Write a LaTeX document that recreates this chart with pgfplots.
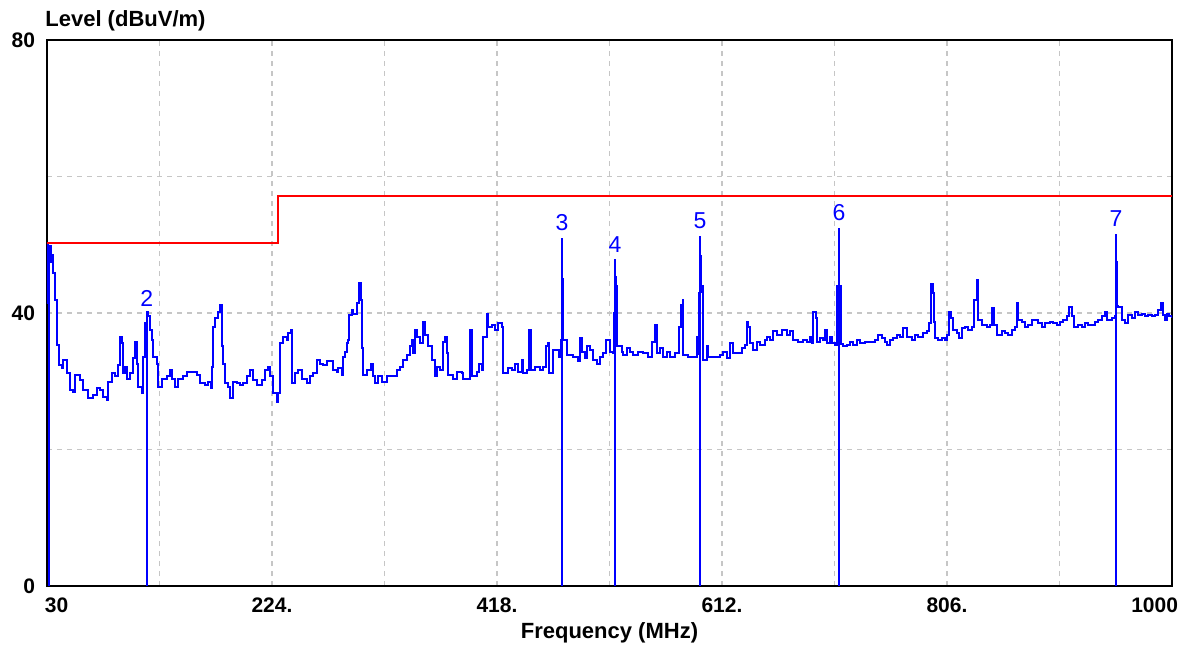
\documentclass[border=0pt]{standalone}
\usepackage{fontspec}
\setmainfont{Liberation Sans}
\usepackage{pgfplots}
\pgfplotsset{compat=1.18}
\begin{document}
\begin{tikzpicture}
\begin{axis}[
  scale only axis, width=562.5pt, height=273pt,
  xmin=30, xmax=1000, ymin=0, ymax=80,
  axis line style={line width=1pt, black},
  xtick={30,224,418,612,806,1000},
  xticklabels={{\makebox[0pt][l]{\hspace{-1pt}30}},224.,418.,612.,806.,{\makebox[0pt][r]{1000\hspace{-3pt}}}},
  ytick={0,40,80}, yticklabels={0,40,80},
  minor xtick={127,321,515,709,903},
  minor ytick={20,60},
  grid=both,
  major grid style={gray!45, line width=0.8pt, dash pattern=on 2.5pt off 2.5pt},
  minor grid style={gray!45, line width=0.8pt, dash pattern=on 2.5pt off 2.5pt},
  major tick length=0pt, minor tick length=0pt,
  ticklabel style={font=\fontsize{10.5}{12}\selectfont\bfseries},
  yticklabel style={xshift=-2.5pt},
  xticklabel style={yshift=-2.5pt},
  xlabel={Frequency (MHz)},
  ylabel={Level (dBuV/m)},
  every axis x label/.style={at={(rel axis cs:0.5,0)}, anchor=north, inner sep=0pt, yshift=-18pt, font=\fontsize{11}{13}\selectfont\bfseries},
  every axis y label/.style={at={(rel axis cs:0,1)}, anchor=south west, inner sep=0pt, xshift=-1pt, yshift=4.5pt, font=\fontsize{11}{13}\selectfont\bfseries},
]
% measured trace
\addplot[blue, line width=1pt, const plot] coordinates {
(30,41.5) (30.3,50.2) (30.9,47) (31.5,49.6) (32.3,49.8) (33.2,47.5) (34.2,48.5) (35.5,45.8) (37,41.9) (38.5,35.3) (40,32.4) (42.6,31.9) (44.1,33.1) (47,31.2) (49.8,28.7) (52.7,28.4) (54.1,30.9) (58.4,30.2) (61.3,28.7) (65.6,27.5) (70,28.0) (72.8,29.0) (75.7,28.7) (78.6,27.7) (81.4,27.3) (82.9,29.9) (85.7,31.2) (88.6,30.7) (91.5,32.4) (92.9,36.5) (94.4,35.6) (95.8,31.2) (97.2,32.1) (99.3,30.4) (101.6,31.2) (104.5,33.4) (105.9,35.8) (107.4,32.6) (108.8,29.2) (111.6,28.3) (113.1,33.6) (114.5,38.5) (116,40.2) (117.4,39.5) (118.8,37.5) (120.3,36.0) (121.7,33.6) (124.6,32.6) (126,29.2) (128.9,30.4) (133.2,30.7) (136.1,31.6) (137.5,30.4) (140.4,29.2) (143.3,30.4) (147.6,30.7) (150.4,31.4) (156.2,31.4) (159.1,30.9) (161.9,29.7) (166.2,29.4) (169.1,29.9) (171.1,29.0) (172,32.1) (173.4,38.0) (174.9,39.2) (177.8,40.2) (179.2,41.2) (180.6,35.1) (182.1,32.6) (183.5,29.7) (186.4,29.2) (187.8,27.5) (190.1,27.5) (190.7,29.9) (193.5,29.7) (196.4,29.4) (199.3,29.7) (202.2,30.7) (205.1,31.6) (207.9,30.2) (210.8,29.4) (215.1,30.2) (218,31.6) (220.9,32.1) (222.3,30.7) (225.2,28.3) (228.1,27.0) (229.5,28.3) (231,35.6) (233.8,36.5) (236.7,36.0) (238.2,37.1) (240.3,37.5) (241.1,29.7) (243.9,31.2) (246.8,31.6) (249.7,30.4) (254,29.7) (256.9,30.7) (259.7,31.2) (262.6,33.1) (265.5,32.6) (268.4,32.4) (271.2,32.9)
(274.0,32.9) (276.9,31.6) (279.7,31.4) (281.2,31.9) (284.1,30.9) (285.5,33.6) (286.9,34.3) (288.4,35.6) (289.8,36.1) (290.7,39.7) (292.7,40.4) (294.1,39.9) (297.0,41.4) (299.0,44.4) (300.4,41.9) (301.3,34.8) (302.7,30.9) (305.6,31.6) (309.1,32.6) (310.8,30.7) (312.8,29.7) (315.7,30.7) (318.5,29.9) (322.9,30.7) (328.6,30.7) (331.5,31.6) (334.4,32.1) (337.2,33.1) (340.1,33.8) (343.0,35.1) (344.4,36.1) (345.9,34.1) (347.3,37.5) (349.3,36.5) (351.6,35.6) (353.9,38.7) (355.9,36.8) (358.8,35.1) (361.7,33.1) (364.5,30.7) (366.0,32.1) (368.8,31.6) (371.7,35.8) (373.2,36.5) (374.6,34.1) (376.0,30.9) (380.3,30.4) (383.2,31.4) (387.5,31.2) (389.0,30.4) (393.3,30.4) (394.7,37.5) (396.1,30.7) (400.5,31.4) (402.8,32.6) (404.8,31.6) (406.2,36.5) (409.1,39.9) (410.5,38.0) (413.4,38.2) (416.3,37.5) (419.1,38.5) (422.0,38.0) (423.4,31.2) (427.8,31.9) (430.6,31.6) (433.5,32.6) (436.4,31.4) (439.3,33.1) (440.7,31.2) (443.6,31.6) (445.9,37.5) (447.3,31.6) (450.7,32.1) (455.1,31.6) (457.9,32.1) (460.2,35.1) (462.2,35.6) (463.1,31.2) (466.6,34.6) (469.4,34.6) (471.7,33.6) (473.5,36.1) (473.9,47.8) (474.3,42.0) (474.8,45.0) (475.3,36.1) (476.6,36.1) (478.6,33.8) (483.8,33.6) (488.1,32.9) (489.5,36.3) (491.0,34.3) (493.9,33.4) (495.3,35.1) (498.2,34.6) (501.1,33.1) (503.9,32.6) (506.8,33.6) (509.7,34.1) (512.0,36.1) (515.4,34.3) (518.3,34.1) (519.3,40.0) (519.7,45.3) (520.3,41.0) (521.0,44.0) (521.6,35.1) (522.6,35.1)
(525.5,34.3) (527.0,33.8) (529.8,34.8) (532.7,34.3) (535.6,33.8) (539.9,34.3) (544.2,34.1) (548.5,33.6) (551.4,35.8) (554.3,38.2) (555.7,34.1) (558.6,34.8) (561.5,33.6) (564.3,34.3) (567.2,33.6) (571.5,34.1) (574.4,34.1) (575.3,38.0) (576.7,41.2) (578.1,41.9) (578.7,33.8) (583.0,33.6) (587.3,33.6) (590.2,36.5) (591.5,34.0) (592.4,43.0) (593.0,48.4) (593.6,43.1) (594.5,44.0) (595.4,33.1) (598.8,35.1) (600.3,33.6) (604.6,33.6) (610.3,33.8) (613.2,34.3) (616.1,33.4) (618.9,35.6) (621.8,34.1) (624.7,34.1) (629.0,34.8) (631.9,35.3) (633.3,38.7) (634.7,38.0) (636.2,35.6) (639.1,34.6) (641.9,35.8) (644.8,35.3) (649.1,36.1) (650.6,36.5) (653.4,36.1) (656.3,37.3) (659.2,36.8) (663.5,37.5) (667.8,36.8) (670.7,37.3) (673.5,36.1) (677.9,35.8) (682.2,36.1) (685.1,35.8) (687.9,36.5) (689.4,35.6) (690.8,40.2) (692.8,39.2) (693.7,35.8) (696.5,36.3) (699.4,36.1) (700.9,37.5) (702.3,35.6) (705.2,36.5) (706.6,35.6) (709.5,35.3) (711.0,44.0) (712.0,40.0) (712.9,43.9) (714.0,44.0) (714.5,35.5) (716.1,35.1) (719.5,35.3) (722.4,35.8) (725.3,35.3) (728.2,36.1) (731.0,35.6) (735.4,35.8) (739.7,35.8) (744.0,36.1) (746.9,36.8) (749.7,36.3) (752.6,35.8) (754.0,35.3) (756.9,36.1) (759.8,36.3) (762.7,36.8)
(765.5,36.5) (768.4,37.8) (771.3,36.5) (775.6,36.0) (778.4,36.8) (781.3,36.5) (785.6,37.0) (788.5,37.3) (790.8,38.5) (792.2,44.3) (793.7,42.9) (794.8,38.7) (795.7,36.3) (798.6,36.0) (801.4,36.3) (804.3,36.0) (806.3,36.8) (807.7,40.2) (809.2,39.2) (810.9,37.5) (814.4,37.0) (816.7,36.3) (818.7,37.8) (821.5,38.0) (824.4,37.5) (827.3,38.0) (829.3,41.9) (831.6,44.8) (833.0,39.0) (835.9,38.2) (840.2,38.0) (843.1,38.2) (844.8,40.7) (846.5,38.2) (849.4,36.8) (853.2,37.3) (856.0,37.0) (858.9,36.8) (861.8,37.5) (864.7,38.0) (866.1,41.4) (867.5,39.0) (870.4,38.7) (873.3,38.0) (876.2,38.2) (879.0,39.0) (881.9,39.0) (884.8,38.5) (887.6,38.0) (890.5,38.5) (894.8,38.7) (897.7,38.5) (900.6,38.2) (903.5,38.7) (906.3,39.0) (909.2,39.5) (911.5,40.9) (913.5,39.5) (915.5,38.0) (919.3,38.2) (922.1,38.0) (925.0,38.5) (927.9,38.2) (930.8,38.2) (933.6,38.7) (936.5,39.0) (939.4,39.5) (942.3,40.2) (944.3,39.0) (948.0,39.2) (950.9,39.5) (951.3,47.3) (951.7,47.5) (952.3,45.0) (953.0,41.0) (953.7,40.9) (956.6,39.0) (959.5,38.5) (962.4,39.7) (965.2,39.2) (968.1,40.2) (971.0,39.7) (973.9,39.9) (976.7,39.5) (979.6,39.7) (982.5,39.5) (985.4,39.7) (988.2,40.4) (990.5,41.4) (992.6,39.7) (994.0,39.0) (995.4,39.9) (997.7,39.5) (1000,39.2)
};
% marker lines
\addplot[blue, line width=1pt, ycomb] coordinates {(32,49.8)};
\addplot[blue, line width=1pt, ycomb, point meta=explicit symbolic, nodes near coords,
  nodes near coords style={font=\fontsize{11.5}{13}\selectfont, text=blue, anchor=south, inner sep=0pt, yshift=3pt}]
  coordinates {(116,40.0)[2] (474,51.0)[3] (519.7,47.9)[4] (593,51.3)[5] (712.9,52.5)[6] (951.7,51.6)[7]};
% limit line
\addplot[red, line width=1pt] coordinates {(30,50.3) (229,50.3) (229,57.1) (1000,57.1)};
\coordinate (bl) at ([xshift=-23.5pt,yshift=-29pt]rel axis cs:0,0);
\coordinate (tr) at ([xshift=11.5pt,yshift=20pt]rel axis cs:1,1);
\end{axis}
\pgfresetboundingbox
\path[use as bounding box] (bl) rectangle (tr);
\end{tikzpicture}
\end{document}
